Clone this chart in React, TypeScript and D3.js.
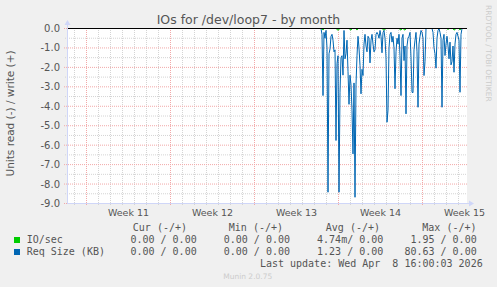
import React from "react";
import * as d3 from "d3";

const W = 497;
const H = 287;

const HOUR = 3600 * 1000;
const domainStart = new Date(Date.UTC(2026, 2, 7, 10, 0, 0));
const domainEnd = new Date(domainStart.getTime() + 800 * HOUR);
const dataStart = new Date(Date.UTC(2026, 2, 28, 14, 0, 0));
const stepHours = 2;

const weekLabels = ["Week 11", "Week 12", "Week 13", "Week 14", "Week 15"];
const yTickValues = [0, -1, -2, -3, -4, -5, -6, -7, -8, -9];
const yTickLabels = ["0.0", "-1.0", "-2.0", "-3.0", "-4.0", "-5.0", "-6.0", "-7.0", "-8.0", "-9.0"];

// Req Size (KB) read, one value every 2 hours (graph units)
const reqSize = [
  0, -0.3, -3.45, -0.2, -0.5, -0.1, -1.0, -8.42, -1.3, -1.05,
  -0.4, -0.3, -0.6, -1.2, -1.1, -5.76, -1.8, -1.4, -8.42, -3.28,
  -1.5, -1.4, -2.4, -0.1, -1.56, -1.3, -0.6, -2.2, -3.9, -2.4,
  -2.9, -4.2, -6.45, -2.8, -8.68, -2.9, -1.4, -0.4, -1.0, -1.9,
  -3.36, -2.1, -2.42, -0.8, -0.3, -0.9, -1.2, -0.4, -0.5, -1.77,
  -0.6, -0.3, -0.8, -1.2, -1.1, -0.3, -0.2, -0.3, -0.5, -0.1,
  -0.4, -1.25, -0.2, -0.1, -0.5, -1.5, -4.82, -4.2, -1.0, -0.3,
  -0.2, -0.7, -0.4, -1.0, -3.1, -1.2, -0.5, -0.8, -0.3, -1.4,
  -3.45, -0.5, -0.3, -1.65, -0.9, -4.39, -0.9, -0.5, -0.4, -0.2,
  -1.5, -3.28, -3.3, -1.1, -0.6, -0.2, -1.2, -4.05, -0.8, -0.4,
  -0.1, -0.2, -0.5, -2.42, -1.7, 0, 0, 0, 0, 0,
  0, 0, -0.2, -1.0, -1.3, -2.04, -0.5, -0.1, 0, -0.2,
  -0.5, -4.05, -0.6, -0.3, -1.39, -0.8, -0.4, -0.9, -1.56, -0.7,
  -1.87, -1.7, -0.9, -2.25, -0.8, -0.3, -0.2, -0.4, -0.6, -3.28,
  -0.3, 0, 0,
];

// IO/sec read, same time steps
const ioSec = [
  0, 0, -0.08, 0, 0, 0, 0, 0, 0, 0,
  0, 0, 0, 0, 0, 0, -0.06, -0.08, -0.06, 0,
  0, 0, 0, 0, 0, 0, 0, 0, 0, -0.06,
  -0.08, 0, 0, 0, 0, 0, -0.08, 0, 0, 0,
  0, 0, 0, 0, 0, 0, 0, 0, 0, 0,
  0, 0, 0, 0, 0, 0, 0, 0, 0, 0,
  0, 0, -0.06, -0.08, -0.06, 0, 0, 0, 0, 0,
  0, 0, 0, 0, 0, 0, 0, 0, 0, -0.06,
  -0.08, 0, 0, -0.06, -0.08, 0, 0, 0, 0, 0,
  0, 0, 0, 0, 0, 0, 0, 0, 0, 0,
  0, 0, 0, 0, 0, 0, 0, 0, 0, 0,
  0, 0, 0, 0, 0, 0, 0, 0, 0, 0,
  0, 0, 0, 0, 0, 0, 0, -0.06, 0, 0,
  0, 0, 0, -0.08, -0.06, 0, 0, 0, 0, -0.08,
  0, 0, 0,
];

const legendHeaders = ["Cur (-/+)", "Min (-/+)", "Avg (-/+)", "Max (-/+)"];
const legendNames = ["IO/sec", "Req Size (KB)"];
const legendColors = ["#00cc00", "#0066b3"];
const legendValues = [
  ["0.00 / 0.00", "0.00 / 0.00", "4.74m/ 0.00", "1.95 / 0.00"],
  ["0.00 / 0.00", "0.00 / 0.00", "1.23 / 0.00", "80.63 / 0.00"],
];
const lastUpdate = "Last update: Wed Apr  8 16:00:03 2026";

export default function App() {
  const x = d3.scaleUtc().domain([domainStart, domainEnd]).range([67.5, 467.5]);
  const y = d3.scaleLinear().domain([-9, 0]).range([203.5, 28.5]);

  const t = (i: number) => new Date(dataStart.getTime() + i * stepHours * HOUR);
  const line = d3
    .line<number>()
    .x((_, i) => x(t(i)) - 0.5)
    .y((d) => y(d));

  const days = d3.utcDay.range(domainStart, domainEnd);
  const mondays = d3.utcMonday.range(domainStart, domainEnd);
  const halfSteps = d3.range(-9, 0.001, 0.5);

  const sans = "'DejaVu Sans', sans-serif";
  const mono = "'DejaVu Sans Mono', monospace";
  const fontColor = "#555";
  const axisColor = "#cfd6f8";
  const minorGrid = "#d4d4d4";
  const majorGrid = "#f2a8a8";

  const headerX = [187, 283, 380, 476.5];
  const valueX = [196.7, 290, 383.3, 476.7];

  return (
    <svg
      width={W}
      height={H}
      style={{ position: "absolute", left: 0, top: 0 }}
      xmlns="http://www.w3.org/2000/svg"
    >
      <rect x={0} y={0} width={W} height={H} fill="#f0f0f0" />
      <rect x={67} y={28} width={400} height={175} fill="#ffffff" />

      {/* minor vertical grid (days) */}
      {days.map((d, i) => (
        <line
          key={"vd" + i}
          x1={x(d)}
          x2={x(d)}
          y1={28}
          y2={205}
          stroke={minorGrid}
          strokeDasharray="1,1"
          strokeWidth={1}
        />
      ))}
      {/* minor horizontal grid */}
      {halfSteps
        .filter((v) => Math.abs(v - Math.round(v)) > 0.1)
        .map((v, i) => (
          <line
            key={"hm" + i}
            x1={65}
            x2={467}
            y1={y(v)}
            y2={y(v)}
            stroke={minorGrid}
            strokeDasharray="1,1"
          />
        ))}
      {/* major vertical grid (weeks) */}
      {mondays.map((d, i) => (
        <line
          key={"vw" + i}
          x1={x(d)}
          x2={x(d)}
          y1={28}
          y2={206}
          stroke={majorGrid}
          strokeDasharray="1,1"
        />
      ))}
      {/* major horizontal grid */}
      {yTickValues.map((v, i) => (
        <line
          key={"hM" + i}
          x1={64}
          x2={467}
          y1={y(v)}
          y2={y(v)}
          stroke={majorGrid}
          strokeDasharray="1,1"
        />
      ))}

      {/* data */}
      <path d={line(ioSec) || ""} fill="none" stroke="#00cc00" strokeWidth={1} />
      <path d={line(reqSize) || ""} fill="none" stroke="#0066b3" strokeWidth={1} />

      {/* zero line */}
      <line x1={67} x2={467} y1={y(0)} y2={y(0)} stroke="#000" strokeWidth={1} />

      {/* axes */}
      <line x1={67} x2={469} y1={203.5} y2={203.5} stroke={axisColor} />
      <path d="M469,200.5 L474,203.5 L469,206.5 Z" fill={axisColor} />
      <line x1={67.5} x2={67.5} y1={203} y2={25} stroke={axisColor} />
      <path d="M64.5,25 L67.5,20 L70.5,25 Z" fill={axisColor} />

      {/* y tick labels */}
      {yTickValues.map((v, i) => (
        <text
          key={"yl" + i}
          x={60}
          y={y(v) + 3.5}
          textAnchor="end"
          fontFamily={sans}
          fontSize={10}
          fill={fontColor}
        >
          {yTickLabels[i]}
        </text>
      ))}

      {/* x labels */}
      {mondays.map((d, i) => (
        <text
          key={"xl" + i}
          x={x(new Date(d.getTime() + 84 * HOUR))}
          y={216}
          textAnchor="middle"
          fontFamily={sans}
          fontSize={9.5}
          fill={fontColor}
        >
          {weekLabels[i]}
        </text>
      ))}

      {/* title */}
      <text
        x={248.5}
        y={24}
        textAnchor="middle"
        fontFamily={sans}
        fontSize={12.5}
        fill={fontColor}
      >
        IOs for /dev/loop7 - by month
      </text>

      {/* y axis title */}
      <text
        transform="translate(14,113.5) rotate(-90)"
        textAnchor="middle"
        fontFamily={sans}
        fontSize={10.5}
        fill={fontColor}
      >
        Units read (-) / write (+)
      </text>

      {/* watermark */}
      <text
        transform="translate(486,5) rotate(90)"
        fontFamily={sans}
        fontSize={7.5}
        fill="#cccccc"
      >
        RRDTOOL / TOBI OETIKER
      </text>

      {/* legend */}
      {legendHeaders.map((h, i) => (
        <text
          key={"lh" + i}
          x={headerX[i]}
          y={230.8}
          textAnchor="end"
          fontFamily={mono}
          fontSize={10}
          fill={fontColor}
          xmlSpace="preserve"
          style={{ whiteSpace: "pre" }}
        >
          {h}
        </text>
      ))}
      {legendNames.map((n, r) => (
        <g key={"lr" + r}>
          <rect x={14} y={237 + r * 12} width={6} height={6} fill={legendColors[r]} />
          <text
            x={26.7}
            y={243.3 + r * 12}
            fontFamily={mono}
            fontSize={10}
            fill={fontColor}
            xmlSpace="preserve"
            style={{ whiteSpace: "pre" }}
          >
            {n}
          </text>
          {legendValues[r].map((v, c) => (
            <text
              key={"lv" + c}
              x={valueX[c]}
              y={243.3 + r * 12}
              textAnchor="end"
              fontFamily={mono}
              fontSize={10}
              fill={fontColor}
              xmlSpace="preserve"
              style={{ whiteSpace: "pre" }}
            >
              {v}
            </text>
          ))}
        </g>
      ))}
      <text
        x={482.7}
        y={266.8}
        textAnchor="end"
        fontFamily={mono}
        fontSize={10}
        fill={fontColor}
        xmlSpace="preserve"
        style={{ whiteSpace: "pre" }}
      >
        {lastUpdate}
      </text>
      <text
        x={247.7}
        y={279}
        textAnchor="middle"
        fontFamily={sans}
        fontSize={7.5}
        fill="#cccccc"
      >
        Munin 2.0.75
      </text>
    </svg>
  );
}
